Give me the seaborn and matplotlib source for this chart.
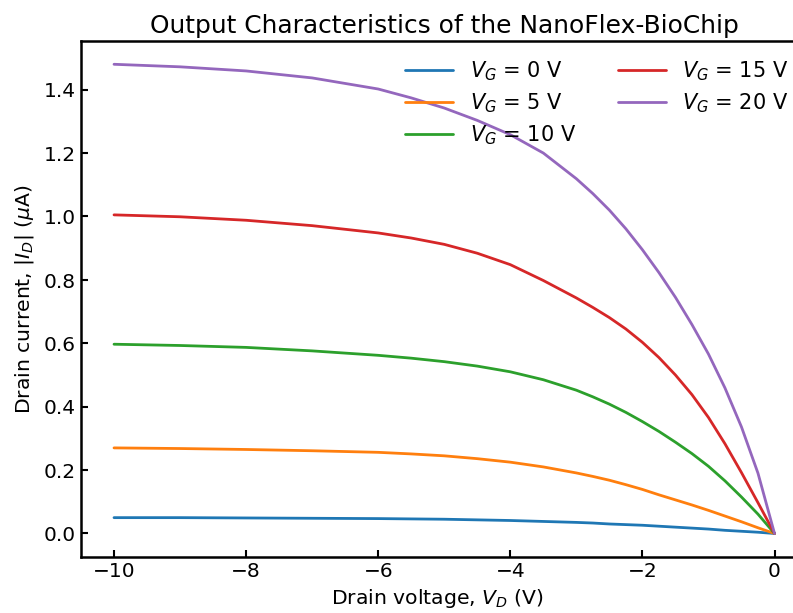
import seaborn as sns
import matplotlib.pyplot as plt
import pandas as pd

# drain voltage points (V)
vd = [-10, -9, -8, -7, -6, -5.5, -5, -4.5, -4, -3.5, -3, -2.75, -2.5, -2.25,
      -2, -1.75, -1.5, -1.25, -1, -0.75, -0.5, -0.25, 0]

# |I_D| in uA for each gate voltage
id_vg0 = [0.050, 0.050, 0.049, 0.048, 0.047, 0.046, 0.045, 0.043, 0.041, 0.038, 0.035, 0.033,
          0.030, 0.028, 0.026, 0.023, 0.020, 0.017, 0.014, 0.010, 0.007, 0.004, 0.0]
id_vg5 = [0.270, 0.268, 0.265, 0.261, 0.256, 0.251, 0.245, 0.236, 0.225, 0.210, 0.191, 0.180,
          0.168, 0.154, 0.139, 0.122, 0.106, 0.090, 0.073, 0.055, 0.037, 0.018, 0.0]
id_vg10 = [0.597, 0.593, 0.587, 0.576, 0.562, 0.553, 0.542, 0.528, 0.510, 0.485, 0.452, 0.431,
           0.408, 0.382, 0.353, 0.322, 0.288, 0.252, 0.212, 0.166, 0.115, 0.061, 0.0]
id_vg15 = [1.005, 0.999, 0.988, 0.971, 0.948, 0.932, 0.912, 0.884, 0.848, 0.798, 0.743, 0.713,
           0.681, 0.645, 0.603, 0.555, 0.500, 0.438, 0.366, 0.283, 0.192, 0.097, 0.0]
id_vg20 = [1.480, 1.472, 1.459, 1.437, 1.402, 1.374, 1.342, 1.303, 1.258, 1.200, 1.119, 1.072,
           1.020, 0.961, 0.895, 0.823, 0.745, 0.659, 0.566, 0.459, 0.336, 0.190, 0.0]

gate_labels = ['$V_G$ = 0 V', '$V_G$ = 5 V', '$V_G$ = 10 V', '$V_G$ = 15 V', '$V_G$ = 20 V']
series = [id_vg0, id_vg5, id_vg10, id_vg15, id_vg20]

# long-form table for seaborn
rows = []
for lab, vals in zip(gate_labels, series):
    for v, i in zip(vd, vals):
        rows.append({'vd': v, 'id': i, 'gate': lab})
df = pd.DataFrame(rows)

sns.set_style('ticks')
plt.rcParams['font.family'] = ['DejaVu Sans']
plt.rcParams['mathtext.fontset'] = 'dejavusans'
plt.rcParams['text.color'] = 'black'
plt.rcParams['axes.labelcolor'] = 'black'

fig = plt.figure(figsize=(7.932, 6.132), dpi=100)
# the reference image is cut off at the right, so the axes stop at the figure edge
ax = fig.add_axes([0.1021, 0.0914, 0.8979, 0.8417])

sns.lineplot(data=df, x='vd', y='id', hue='gate', hue_order=gate_labels,
             palette='tab10', linewidth=2.0, ax=ax)

ax.set_xlim(-10.5, 0.283)
ax.set_ylim(-0.074, 1.554)
ax.set_xticks([-10, -8, -6, -4, -2, 0])
ax.set_yticks([0.0, 0.2, 0.4, 0.6, 0.8, 1.0, 1.2, 1.4])
ax.set_yticklabels(['0.0', '0.2', '0.4', '0.6', '0.8', '1.0', '1.2', '1.4'])

ax.tick_params(direction='in', length=5, width=1.5, labelsize=14.5, colors='black')
for sp in ax.spines.values():
    sp.set_linewidth(1.8)
    sp.set_color('black')
ax.spines['right'].set_visible(False)

ax.set_xlabel('Drain voltage, $V_D$ (V)', fontsize=14.7, labelpad=4)
ax.set_ylabel('Drain current, $|I_D|$ ($\\mu$A)', fontsize=14.7, labelpad=6)
ax.set_title('Output Characteristics of the NanoFlex-BioChip', fontsize=17.9, pad=6,
             x=0.51)

ax.legend(loc='upper right', bbox_to_anchor=(1.02, 1.0), ncol=2, frameon=False, fontsize=15,
          handlelength=2.3, columnspacing=2.0, labelspacing=0.4)

fig.savefig('out.png', dpi=100)
